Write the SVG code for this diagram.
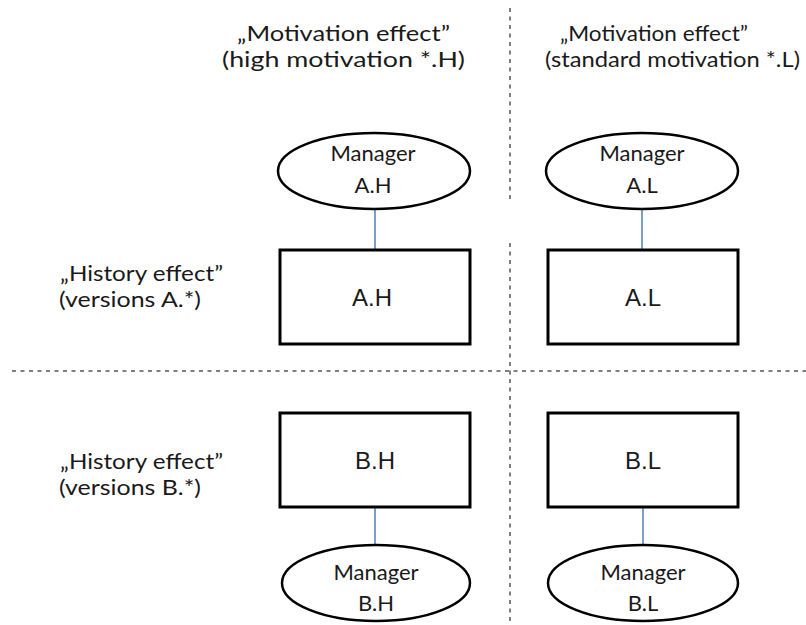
<svg xmlns="http://www.w3.org/2000/svg" width="806" height="625" viewBox="0 0 806 625">
  <style>
    .grid { stroke: #7f7f7f; stroke-width: 2; fill: none; stroke-dasharray: 4 4.5; }
    .box { fill: #ffffff; stroke: #000000; stroke-width: 3; }
    .oval { fill: #ffffff; stroke: #000000; stroke-width: 2.5; }
    .link { stroke: #4f81bd; stroke-width: 1.5; fill: none; }
    .head { font-family: Lato, "Open Sans", sans-serif; font-size: 21.5px; fill: #1a1a1a; }
    .mgr { font-family: Lato, "Open Sans", sans-serif; font-size: 22px; fill: #1a1a1a; text-anchor: middle; }
    .lbl { font-family: "Liberation Sans", Arial, sans-serif; font-size: 24px; fill: #1a1a1a; text-anchor: middle; }
  </style>

  <rect width="806" height="625" fill="#ffffff"/>

  <!-- quadrant separators -->
  <g id="separators">
    <line class="grid" x1="510" y1="8" x2="510" y2="203"/>
    <line class="grid" x1="510" y1="243" x2="510" y2="625"/>
    <line class="grid" x1="12" y1="371" x2="806" y2="371"/>
  </g>

  <!-- column and row headings -->
  <g id="heading-high">
    <text class="head" x="237" y="41" textLength="213" lengthAdjust="spacingAndGlyphs">„Motivation effect”</text>
    <text class="head" x="222" y="67" textLength="243" lengthAdjust="spacingAndGlyphs">(high motivation *.H)</text>
  </g>
  <g id="heading-standard">
    <text class="head" x="560" y="41" textLength="188" lengthAdjust="spacingAndGlyphs">„Motivation effect”</text>
    <text class="head" x="545" y="67" textLength="255" lengthAdjust="spacingAndGlyphs">(standard motivation *.L)</text>
  </g>
  <g id="heading-history-a">
    <text class="head" x="60" y="281" textLength="163" lengthAdjust="spacingAndGlyphs">„History effect”</text>
    <text class="head" x="59" y="307" textLength="142" lengthAdjust="spacingAndGlyphs">(versions A.*)</text>
  </g>
  <g id="heading-history-b">
    <text class="head" x="60" y="469" textLength="163" lengthAdjust="spacingAndGlyphs">„History effect”</text>
    <text class="head" x="59" y="495" textLength="142" lengthAdjust="spacingAndGlyphs">(versions B.*)</text>
  </g>

  <!-- connectors -->
  <g id="connectors">
    <line class="link" x1="375" y1="209" x2="375" y2="250"/>
    <line class="link" x1="642" y1="209" x2="642" y2="250"/>
    <line class="link" x1="375" y1="507" x2="375" y2="546"/>
    <line class="link" x1="643" y1="507" x2="643" y2="546"/>
  </g>

  <!-- managers -->
  <g id="manager-ah">
    <ellipse class="oval" cx="374" cy="171" rx="96" ry="38"/>
    <text class="mgr" x="373" y="161">Manager</text>
    <text class="mgr" x="373" y="193">A.H</text>
  </g>
  <g id="manager-al">
    <ellipse class="oval" cx="642" cy="171" rx="96" ry="38"/>
    <text class="mgr" x="642" y="161">Manager</text>
    <text class="mgr" x="642" y="193">A.L</text>
  </g>
  <g id="manager-bh">
    <ellipse class="oval" cx="376" cy="583" rx="94" ry="38"/>
    <text class="mgr" x="376" y="580">Manager</text>
    <text class="mgr" x="376" y="611">B.H</text>
  </g>
  <g id="manager-bl">
    <ellipse class="oval" cx="643" cy="583" rx="95" ry="38"/>
    <text class="mgr" x="643" y="580">Manager</text>
    <text class="mgr" x="643" y="611">B.L</text>
  </g>

  <!-- versions -->
  <g id="version-ah">
    <rect class="box" x="280" y="250" width="190" height="94"/>
    <text class="lbl" x="372" y="306">A.H</text>
  </g>
  <g id="version-al">
    <rect class="box" x="548" y="250" width="190" height="94"/>
    <text class="lbl" x="643" y="306">A.L</text>
  </g>
  <g id="version-bh">
    <rect class="box" x="280" y="413" width="190" height="94"/>
    <text class="lbl" x="375" y="469">B.H</text>
  </g>
  <g id="version-bl">
    <rect class="box" x="548" y="413" width="190" height="94"/>
    <text class="lbl" x="643" y="469">B.L</text>
  </g>
</svg>
